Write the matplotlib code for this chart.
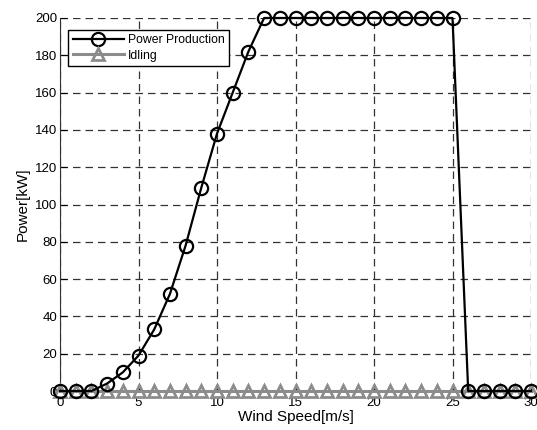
import matplotlib
matplotlib.use("Agg")
import matplotlib.pyplot as plt

wind_speed = list(range(0, 31))
power_production = [0, 0, 0, 4, 10, 19, 33, 52, 78, 109, 138, 160, 182,
                    200, 200, 200, 200, 200, 200, 200, 200, 200, 200, 200, 200, 200,
                    0, 0, 0, 0, 0]
idling = [0] * 31
x_ticks = [0, 5, 10, 15, 20, 25, 30]
y_ticks = [0, 20, 40, 60, 80, 100, 120, 140, 160, 180, 200]

plt.rcParams['font.family'] = ['Liberation Sans', 'DejaVu Sans']

fig = plt.figure(figsize=(5.37, 4.30), dpi=100)
ax = fig.add_axes([60/537, 1-391/430, (531-60)/537, (391-18)/430])

ax.plot(wind_speed, power_production, color='black', lw=1.6, marker='o',
        markersize=9.5, markerfacecolor='none', markeredgewidth=1.6,
        label='Power Production', zorder=4, clip_on=False)
ax.plot(wind_speed, idling, color='#8c8c8c', lw=2.2, marker='^',
        markersize=9, markerfacecolor='none', markeredgewidth=2.0,
        label='Idling', zorder=3, clip_on=False)

ax.set_xlim(0, 30)
ax.set_ylim(0, 200)
ax.set_xticks(x_ticks)
ax.set_yticks(y_ticks)
ax.grid(True, color='#333333', linestyle=(0, (6, 4)), lw=0.9)
ax.set_axisbelow(True)
for s in ['top', 'right']:
    ax.spines[s].set_visible(False)
ax.spines['left'].set_color('#333333')
ax.spines['bottom'].set_color('#333333')
ax.tick_params(direction='in', length=5, labelsize=9.5, pad=2)
ax.tick_params(axis='x', pad=4)
ax.set_xlabel('Wind Speed[m/s]', fontsize=11, labelpad=1)
ax.set_ylabel('Power[kW]', fontsize=11, labelpad=4)

leg = ax.legend(loc='upper left', bbox_to_anchor=(0.005, 0.985), fontsize=8.8,
                frameon=True, fancybox=False, edgecolor='black',
                framealpha=1, handlelength=4.2, borderpad=0.35,
                labelspacing=0.3, handletextpad=0.3)
leg.get_frame().set_linewidth(1.0)
leg.set_zorder(10)

fig.savefig('out.png', dpi=100)
